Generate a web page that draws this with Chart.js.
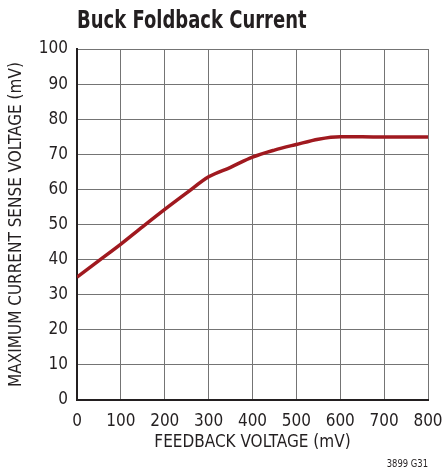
<!DOCTYPE html>
<html>
<head>
<meta charset="utf-8">
<script src="https://cdn.jsdelivr.net/npm/chart.js@4"></script>
<style>
  html, body { margin: 0; padding: 0; background: #fff; }
  #wrap { width: 442px; height: 471px; }
</style>
</head>
<body>
<div id="wrap"><canvas id="chart" width="442" height="471"></canvas></div>
<script>
// values
const feedbackMv = [0, 50, 100, 150, 200, 250, 300, 350, 400, 450, 500, 550, 600, 650, 700, 750, 800];
const senseMv = [35, 39.7, 44.4, 49.4, 54.3, 59, 63.6, 66.3, 69.2, 71.2, 72.8, 74.3, 75, 75, 74.9, 74.9, 74.9];

const titleText = 'Buck Foldback Current';
const xTitle = 'FEEDBACK VOLTAGE (mV)';
const yTitle = 'MAXIMUM CURRENT SENSE VOLTAGE (mV)';
const noteText = '3899 G31';

const FONT = '"Liberation Sans Narrow", "DejaVu Sans Condensed", "Arial Narrow", sans-serif';

// title + figure code drawn relative to chart area (squeezed to look condensed)
const labelsPlugin = {
    id: 'labels',
    afterDraw(chart) {
        const ctx = chart.ctx;
        const area = chart.chartArea;
        ctx.save();
        ctx.fillStyle = '#231f20';
        ctx.textBaseline = 'alphabetic';
        ctx.save();
        ctx.translate(area.left, 28);
        ctx.scale(0.8, 1);
        ctx.font = 'bold 25px ' + FONT;
        ctx.textAlign = 'left';
        ctx.fillText(titleText, 0, 0);
        ctx.restore();
        ctx.save();
        ctx.translate(area.right, 467);
        ctx.scale(0.85, 1);
        ctx.font = '11px ' + FONT;
        ctx.textAlign = 'right';
        ctx.fillText(noteText, 0, 0);
        ctx.restore();
        ctx.restore();
    }
};

const ctx = document.getElementById('chart').getContext('2d');
new Chart(ctx, {
    type: 'line',
    data: {
        datasets: [{
            data: feedbackMv.map((x, i) => ({ x: x, y: senseMv[i] })),
            borderColor: '#a0191f',
            borderWidth: 3.5,
            pointRadius: 0,
            cubicInterpolationMode: 'monotone',
            fill: false
        }]
    },
    options: {
        responsive: false,
        animation: false,
        layout: { padding: { top: 49, left: 6, right: 14, bottom: 18 } },
        scales: {
            x: {
                type: 'linear',
                min: 0,
                max: 800,
                afterFit: (scale) => {
                    scale.height = 53;
                    scale.paddingLeft = 0;
                    scale.paddingRight = 0;
                },
                ticks: { stepSize: 100, color: '#231f20', padding: 11, font: { family: FONT, size: 17 } },
                grid: { color: '#747474', lineWidth: 1, drawTicks: false },
                border: { color: '#231f20', width: 2 },
                title: { display: true, text: xTitle, color: '#231f20', padding: { top: 4, bottom: 0 }, font: { family: FONT, size: 17 } }
            },
            y: {
                min: 0,
                max: 100,
                afterFit: (scale) => {
                    scale.width = 71;
                    scale.paddingTop = 0;
                    scale.paddingBottom = 0;
                },
                ticks: { stepSize: 10, color: '#231f20', padding: 9, font: { family: FONT, size: 17 } },
                grid: { color: '#747474', lineWidth: 1, drawTicks: false },
                border: { color: '#231f20', width: 2 },
                title: { display: true, text: yTitle, color: '#231f20', padding: { top: 0, bottom: 4 }, font: { family: FONT, size: 17 } }
            }
        },
        plugins: {
            legend: { display: false },
            tooltip: { enabled: false }
        }
    },
    plugins: [labelsPlugin]
});
</script>
</body>
</html>
